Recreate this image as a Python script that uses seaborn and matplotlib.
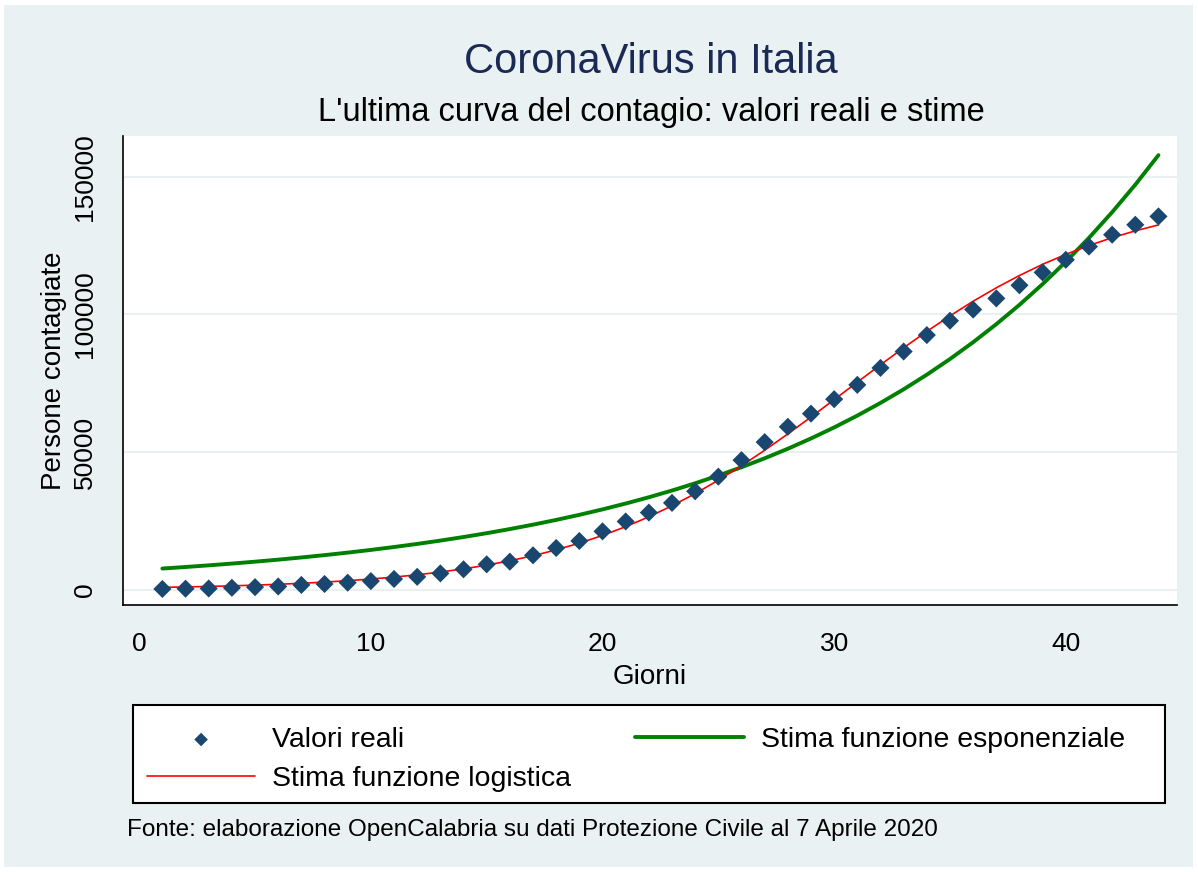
import numpy as np
import pandas as pd
import matplotlib
matplotlib.use("Agg")
import matplotlib.pyplot as plt
import seaborn as sns
from matplotlib.patches import Rectangle

# ---- data ----
giorni = list(range(1, 45))
valori_reali = [229, 322, 400, 650, 888, 1128, 1694, 2036, 2502, 3089,
                3858, 4636, 5883, 7375, 9172, 10149, 12462, 15113, 17660, 21157,
                24747, 27980, 31506, 35713, 41035, 47021, 53578, 59138, 63927, 69176,
                74386, 80539, 86498, 92472, 97689, 101739, 105792, 110574, 115242, 119827,
                124632, 128948, 132547, 135586]
stima_esponenziale = [7650, 8208, 8807, 9449, 10138, 10877, 11670, 12521, 13434, 14414,
                      15465, 16593, 17803, 19101, 20494, 21989, 23593, 25314, 27160, 29141,
                      31266, 33546, 35993, 38618, 41434, 44456, 47698, 51177, 54909, 58914,
                      63211, 67821, 72767, 78074, 83768, 89878, 96433, 103466, 111012, 119108,
                      127794, 137115, 147115, 157844]
stima_logistica = [806, 961, 1143, 1360, 1618, 1924, 2289, 2719, 3229, 3831,
                   4544, 5382, 6371, 7529, 8885, 10462, 12309, 14425, 16876, 19669,
                   22856, 26431, 30449, 34873, 39737, 45003, 50611, 56552, 62689, 69014,
                   75364, 81676, 87852, 93801, 99451, 104767, 109646, 114125, 118184, 121794,
                   125020, 127852, 130337, 132492]
x_ticks = [0, 10, 20, 30, 40]
y_ticks = [0, 50000, 100000, 150000]
y_tick_labels = ["0", "50000", "100000", "150000"]

df = pd.DataFrame({"Giorni": giorni, "reali": valori_reali,
                   "esp": stima_esponenziale, "log": stima_logistica})

sns.set_style("white")
plt.rcParams["font.family"] = ["Liberation Sans", "DejaVu Sans"]
plt.rcParams["text.color"] = "black"
plt.rcParams["axes.labelcolor"] = "black"

W, H = 1198, 872
fig = plt.figure(figsize=(W / 100, H / 100), dpi=100, facecolor="white")
BG = "#EAF1F3"
fig.patches.append(Rectangle((4 / W, 5 / H), (W - 9) / W, (H - 10) / H,
                             transform=fig.transFigure, facecolor=BG,
                             edgecolor="none", zorder=-10))

L, R, T, B = 123, 1177, 136, 605
ax = fig.add_axes([L / W, 1 - B / H, (R - L) / W, (B - T) / H])
ax.set_facecolor("white")

sns.lineplot(data=df, x="Giorni", y="esp", ax=ax, color="#008000", lw=2.8,
             label="Stima funzione esponenziale", zorder=3)
sns.lineplot(data=df, x="Giorni", y="log", ax=ax, color="#FF0000", lw=1.2,
             label="Stima funzione logistica", zorder=4)
sns.scatterplot(data=df, x="Giorni", y="reali", ax=ax, marker="D", s=85,
                color="#1A476F", edgecolor="none", label="Valori reali", zorder=5)

ax.set_xlim(-0.7, 44.8)
ax.set_ylim(-5600, 164800)
ax.set_xticks(x_ticks)
ax.set_yticks(y_ticks)
ax.set_yticklabels(y_tick_labels, rotation=90, va="center")
ax.yaxis.grid(True, color="#E8F0F2", lw=1.5)
ax.xaxis.grid(False)
ax.set_axisbelow(True)
for s in ["top", "right"]:
    ax.spines[s].set_visible(False)
for s in ["left", "bottom"]:
    ax.spines[s].set_color("black")
    ax.spines[s].set_linewidth(1.2)
ax.tick_params(axis="both", direction="out", length=9, width=1.2, color="black",
               labelsize=19, labelcolor="black")
ax.tick_params(axis="y", pad=10)
ax.tick_params(axis="x", pad=10.5)
ax.set_xlabel("Giorni", fontsize=20, labelpad=6)
ax.set_ylabel("Persone contagiate", fontsize=20, labelpad=4)

fig.text(651 / W, 1 - 62 / H, "CoronaVirus in Italia", fontsize=30,
         color="#1A2A55", ha="center", va="center")
fig.text(651 / W, 1 - 112 / H, "L'ultima curva del contagio: valori reali e stime",
         fontsize=23.5, color="black", ha="center", va="center")
fig.text(127 / W, 1 - 830 / H,
         "Fonte: elaborazione OpenCalabria su dati Protezione Civile al 7 Aprile 2020",
         fontsize=17.5, color="black", ha="left", va="center")

# legend frame
fig.patches.append(Rectangle((133 / W, 1 - 803 / H), (1165 - 133) / W, 98 / H,
                             transform=fig.transFigure, facecolor="white",
                             edgecolor="black", lw=1.5, zorder=1))

handles, labels = ax.get_legend_handles_labels()
hmap = dict(zip(labels, handles))
order = ["Valori reali", "Stima funzione logistica", "Stima funzione esponenziale"]
if ax.get_legend() is not None:
    ax.get_legend().remove()
leg = fig.legend([hmap[k] for k in order], order, ncol=2,
                 bbox_to_anchor=(147 / W, 1 - 727 / H),
                 loc="upper left", fontsize=20.5, frameon=False,
                 handlelength=3.8, handletextpad=0.6, borderpad=0,
                 borderaxespad=0, labelspacing=0.45, markerscale=0.75,
                 columnspacing=2.25, labelcolor="black")
leg.set_zorder(2)

fig.savefig("out.png", dpi=100, facecolor="white")
